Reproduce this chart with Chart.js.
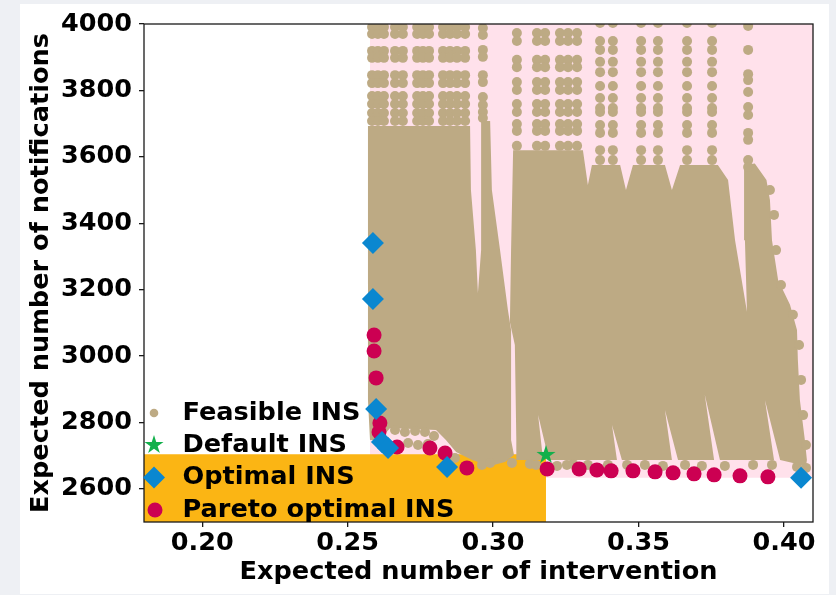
<!DOCTYPE html>
<html>
<head>
<meta charset="utf-8">
<script src="https://cdn.jsdelivr.net/npm/chart.js@4.4.1/dist/chart.umd.min.js"></script>
<style>
  body { margin: 0; background: #eef0f4; }
  #card { position: absolute; left: 20px; top: 4px; width: 809px; height: 590px; background: #fff; }
  #paretoChart { position: absolute; left: 0; top: 0; }
</style>
</head>
<body>
<div id="card"></div>
<canvas id="paretoChart" width="836" height="595"></canvas>
<script>
// tick labels
const xTicks = [0.2, 0.25, 0.3, 0.35, 0.4];
const yTicks = [2600, 2800, 3000, 3200, 3400, 3600, 3800, 4000];

// shaded regions
const dominatedBox = [[0.2577, 2633], [0.41, 2633], [0.41, 4000], [0.2577, 4000]];
const betterThanDefaultBox = [[0.18, 2500], [0.3182, 2500], [0.3182, 2704], [0.18, 2704]];

// dense body of feasible INS (outline)
const feasibleBodyLeft = [
  [0.2570, 3693], [0.2921, 3693], [0.2924, 3500], [0.2941, 3319], [0.2948, 3190],
  [0.2959, 3319], [0.2959, 3708], [0.2990, 3708], [0.2996, 3500], [0.3024, 3319],
  [0.3051, 3139], [0.3062, 3078], [0.3062, 2747], [0.3072, 2702], [0.3041, 2681],
  [0.2990, 2669], [0.2928, 2687], [0.2873, 2711], [0.2838, 2747], [0.2804, 2777],
  [0.2646, 2783], [0.2611, 2747], [0.2577, 2747], [0.2570, 2867],
];
const feasibleBodyRight = [
  [0.3069, 3620], [0.3309, 3620], [0.3326, 3515], [0.3340, 3575], [0.3437, 3575],
  [0.3457, 3500], [0.3481, 3575], [0.3591, 3575], [0.3615, 3500], [0.3643, 3575],
  [0.3773, 3575], [0.3808, 3530], [0.3832, 3349], [0.3873, 3133], [0.3866, 3349],
  [0.3863, 3575], [0.3900, 3580], [0.3940, 3530], [0.3952, 3470], [0.3959, 3349],
  [0.3980, 3229], [0.4021, 3154], [0.4045, 3078], [0.4048, 2988], [0.4055, 2867],
  [0.4072, 2747], [0.4079, 2687], [0.4076, 2669], [0.3987, 2687], [0.3935, 2867],
  [0.3966, 2687], [0.3780, 2687], [0.3728, 2883], [0.3760, 2687], [0.3636, 2687],
  [0.3591, 2837], [0.3615, 2687], [0.3443, 2687], [0.3409, 2792], [0.3426, 2687],
  [0.3192, 2687], [0.3155, 2822], [0.3172, 2687], [0.3082, 2687], [0.3080, 2747],
  [0.3075, 3033], [0.3058, 3102], [0.3062, 3319],
];

// sparse upper part of feasible INS: columns and rows of dots
const leftColsX = [0.2584, 0.2604, 0.2625, 0.2663, 0.2690, 0.2739, 0.2759, 0.2780, 0.2828, 0.2852, 0.2876, 0.2904];
const leftRowsY = [3991, 3970, 3919, 3898, 3846, 3822, 3783, 3759, 3732, 3708];
const midColX = [0.2965];
const midRowsY = [3988, 3967, 3922, 3901, 3846, 3825, 3780, 3756, 3735, 3717];
const rightColsX = [0.3082, 0.3151, 0.3179, 0.3230, 0.3258, 0.3289];
const rightRowsY = [3973, 3949, 3892, 3870, 3825, 3801, 3759, 3735, 3699, 3678, 3633];
const farColsX = [0.3368, 0.3412, 0.3509, 0.3567, 0.3667, 0.3753];
const farRowsY = [4003, 3949, 3922, 3886, 3855, 3813, 3777, 3747, 3735, 3696, 3672, 3620, 3590];
const edgeColX = [0.3877];
const edgeRowsY = [3994, 3922, 3849, 3831, 3795, 3750, 3726, 3672, 3651, 3590, 3569];

// loose feasible dots along the bottom and right edge of the cloud
const fringeX = [0.2663, 0.2697, 0.2732, 0.2766, 0.2797, 0.2708, 0.2742, 0.2776,
  0.2869, 0.2962, 0.2990, 0.3065, 0.3127, 0.3148, 0.3220, 0.3254, 0.3275, 0.3326,
  0.3395, 0.3461, 0.3522, 0.3584, 0.3660, 0.3718, 0.3797, 0.3894, 0.3959, 0.4045, 0.4076,
  0.3952, 0.3966, 0.3973, 0.3990, 0.4031, 0.4052, 0.4059, 0.4066, 0.4076];
const fringeY = [2777, 2771, 2774, 2771, 2759, 2738, 2732, 2735,
  2693, 2672, 2678, 2678, 2675, 2672, 2669, 2672, 2675, 2672,
  2672, 2672, 2672, 2669, 2672, 2669, 2669, 2672, 2672, 2666, 2663,
  3500, 3425, 3319, 3214, 3124, 3033, 2928, 2822, 2732];

// Pareto optimal INS
const paretoX = [0.2591, 0.2591, 0.2598, 0.2611, 0.2608, 0.2670, 0.2783, 0.2835, 0.2910, 0.3186,
  0.3296, 0.3357, 0.3406, 0.3481, 0.3557, 0.3619, 0.3691, 0.3760, 0.3849, 0.3945];
const paretoY = [3063, 3015, 2934, 2798, 2771, 2726, 2723, 2708, 2663, 2660,
  2660, 2657, 2654, 2654, 2651, 2648, 2645, 2642, 2639, 2636];

// Optimal INS
const optimalX = [0.2587, 0.2587, 0.2598, 0.2618, 0.2639, 0.2842, 0.4059];
const optimalY = [3340, 3172, 2840, 2741, 2723, 2666, 2633];

// Default INS
const defaultX = [0.3182];
const defaultY = [2702];

const colTan = "#bdaa84";
const colPink = "#ffe1eb";
const colOrange = "#fbb514";
const colRed = "#cc0052";
const colBlue = "#0a87d0";
const colGreen = "#12b04b";

function toPoints(pairs) {
  return pairs.map((p) => ({ x: p[0], y: p[1] }));
}
function closed(pairs) {
  return toPoints(pairs.concat([pairs[0]]));
}
function gridPoints(cols, rows) {
  const pts = [];
  rows.forEach((y) => cols.forEach((x) => pts.push({ x: x, y: y })));
  return pts;
}
function zipPoints(xs, ys) {
  return xs.map((x, i) => ({ x: x, y: ys[i] }));
}

// filled star like matplotlib '*'
function makeStar(color, r) {
  const c = document.createElement("canvas");
  const s = Math.ceil(r * 2 + 4);
  c.width = s;
  c.height = s;
  const g = c.getContext("2d");
  g.fillStyle = color;
  g.beginPath();
  for (let i = 0; i < 10; i++) {
    const rr = i % 2 === 0 ? r : r * 0.382;
    const a = -Math.PI / 2 + (i * Math.PI) / 5;
    const px = s / 2 + rr * Math.cos(a);
    const py = s / 2 + rr * Math.sin(a);
    if (i === 0) g.moveTo(px, py);
    else g.lineTo(px, py);
  }
  g.closePath();
  g.fill();
  return c;
}
const starImg = makeStar(colGreen, 10);

const feasibleDots = []
  .concat(gridPoints(leftColsX, leftRowsY))
  .concat(gridPoints(midColX, midRowsY))
  .concat(gridPoints(rightColsX, rightRowsY))
  .concat(gridPoints(farColsX, farRowsY))
  .concat(gridPoints(edgeColX, edgeRowsY))
  .concat(zipPoints(fringeX, fringeY));

function areaSet(pairs, color, order) {
  return {
    data: closed(pairs),
    showLine: true,
    fill: "shape",
    backgroundColor: color,
    borderColor: "rgba(0,0,0,0)",
    borderWidth: 0,
    pointRadius: 0,
    tension: 0,
    order: order,
  };
}

// frame round the plot area, drawn above the data
const frameBox = {
  id: "frameBox",
  afterDatasetsDraw(chart) {
    const { ctx, chartArea } = chart;
    ctx.save();
    ctx.strokeStyle = "#1a1a1a";
    ctx.lineWidth = 1.3;
    ctx.strokeRect(chartArea.left, chartArea.top, chartArea.right - chartArea.left, chartArea.bottom - chartArea.top);
    ctx.restore();
  },
};

// legend inside the axes, lower left, no frame
const insideLegend = {
  id: "insideLegend",
  afterDraw(chart) {
    const { ctx, chartArea } = chart;
    const mx = chartArea.left + 10;
    const tx = chartArea.left + 38.5;
    const rows = [
      { label: "Feasible INS", kind: "dot", y: chartArea.bottom - 109 },
      { label: "Default INS", kind: "star", y: chartArea.bottom - 77 },
      { label: "Optimal INS", kind: "diamond", y: chartArea.bottom - 44.5 },
      { label: "Pareto optimal INS", kind: "circle", y: chartArea.bottom - 12 },
    ];
    ctx.save();
    rows.forEach((r) => {
      if (r.kind === "dot") {
        ctx.fillStyle = colTan;
        ctx.beginPath();
        ctx.arc(mx, r.y, 4.3, 0, Math.PI * 2);
        ctx.fill();
      } else if (r.kind === "star") {
        ctx.drawImage(starImg, mx - starImg.width / 2, r.y - starImg.height / 2);
      } else if (r.kind === "diamond") {
        ctx.fillStyle = colBlue;
        ctx.beginPath();
        ctx.moveTo(mx - 11, r.y);
        ctx.lineTo(mx, r.y - 11);
        ctx.lineTo(mx + 11, r.y);
        ctx.lineTo(mx, r.y + 11);
        ctx.closePath();
        ctx.fill();
      } else {
        ctx.fillStyle = colRed;
        ctx.beginPath();
        ctx.arc(mx + 1, r.y, 7.5, 0, Math.PI * 2);
        ctx.fill();
      }
      ctx.fillStyle = "#000";
      ctx.font = "bold 25.6px 'DejaVu Sans'";
      ctx.textBaseline = "middle";
      ctx.textAlign = "left";
      ctx.fillText(r.label, tx, r.y);
    });
    ctx.restore();
  },
};

Chart.defaults.font.family = "'DejaVu Sans', sans-serif";
Chart.defaults.color = "#000";

const config = {
  type: "scatter",
  data: {
    datasets: [
      areaSet(dominatedBox, colPink, 10),
      areaSet(betterThanDefaultBox, colOrange, 9),
      areaSet(feasibleBodyLeft, colTan, 8),
      areaSet(feasibleBodyRight, colTan, 8),
      {
        label: "Feasible INS",
        data: feasibleDots,
        backgroundColor: colTan,
        borderWidth: 0,
        pointRadius: 5,
        order: 7,
      },
      {
        label: "Pareto optimal INS",
        data: zipPoints(paretoX, paretoY),
        backgroundColor: colRed,
        borderWidth: 0,
        pointRadius: 7.5,
        order: 3,
      },
      {
        label: "Optimal INS",
        data: zipPoints(optimalX, optimalY),
        backgroundColor: colBlue,
        borderWidth: 0,
        pointStyle: "rectRot",
        pointRadius: 11,
        order: 2,
      },
      {
        label: "Default INS",
        data: zipPoints(defaultX, defaultY),
        pointStyle: starImg,
        order: 1,
      },
    ],
  },
  options: {
    responsive: false,
    animation: false,
    layout: { padding: { left: 0, top: 24, right: 23, bottom: 0 } },
    plugins: {
      legend: { display: false },
      tooltip: { enabled: false },
    },
    scales: {
      x: {
        type: "linear",
        min: 0.18,
        max: 0.41,
        afterBuildTicks: (axis) => {
          axis.ticks = xTicks.map((v) => ({ value: v }));
        },
        afterFit: (axis) => {
          axis.height = 73;
        },
        ticks: {
          callback: (v) => Number(v).toFixed(2),
          font: { size: 25.5, weight: "bold" },
          color: "#000",
          padding: 1,
          maxRotation: 0,
          autoSkip: false,
        },
        grid: { display: true, drawOnChartArea: false, drawTicks: true, tickLength: 5, color: "#1a1a1a", lineWidth: 1.3 },
        border: { display: false },
        title: {
          display: true,
          text: "Expected number of intervention",
          font: { size: 25.6, weight: "bold" },
          color: "#000",
          padding: { top: 0, bottom: 7 },
        },
      },
      y: {
        type: "linear",
        min: 2500,
        max: 4000,
        afterBuildTicks: (axis) => {
          axis.ticks = yTicks.map((v) => ({ value: v }));
        },
        afterFit: (axis) => {
          axis.width = 144;
        },
        ticks: {
          callback: (v) => String(v),
          font: { size: 25.5, weight: "bold" },
          color: "#000",
          padding: 7,
          autoSkip: false,
        },
        grid: { display: true, drawOnChartArea: false, drawTicks: true, tickLength: 5, color: "#1a1a1a", lineWidth: 1.3 },
        border: { display: false },
        title: {
          display: true,
          text: "Expected number of notifications",
          font: { size: 25.6, weight: "bold" },
          color: "#000",
          padding: { top: 26, bottom: 0 },
        },
      },
    },
  },
  plugins: [frameBox, insideLegend],
};

const paretoChart = new Chart(document.getElementById("paretoChart"), config);
</script>
</body>
</html>
